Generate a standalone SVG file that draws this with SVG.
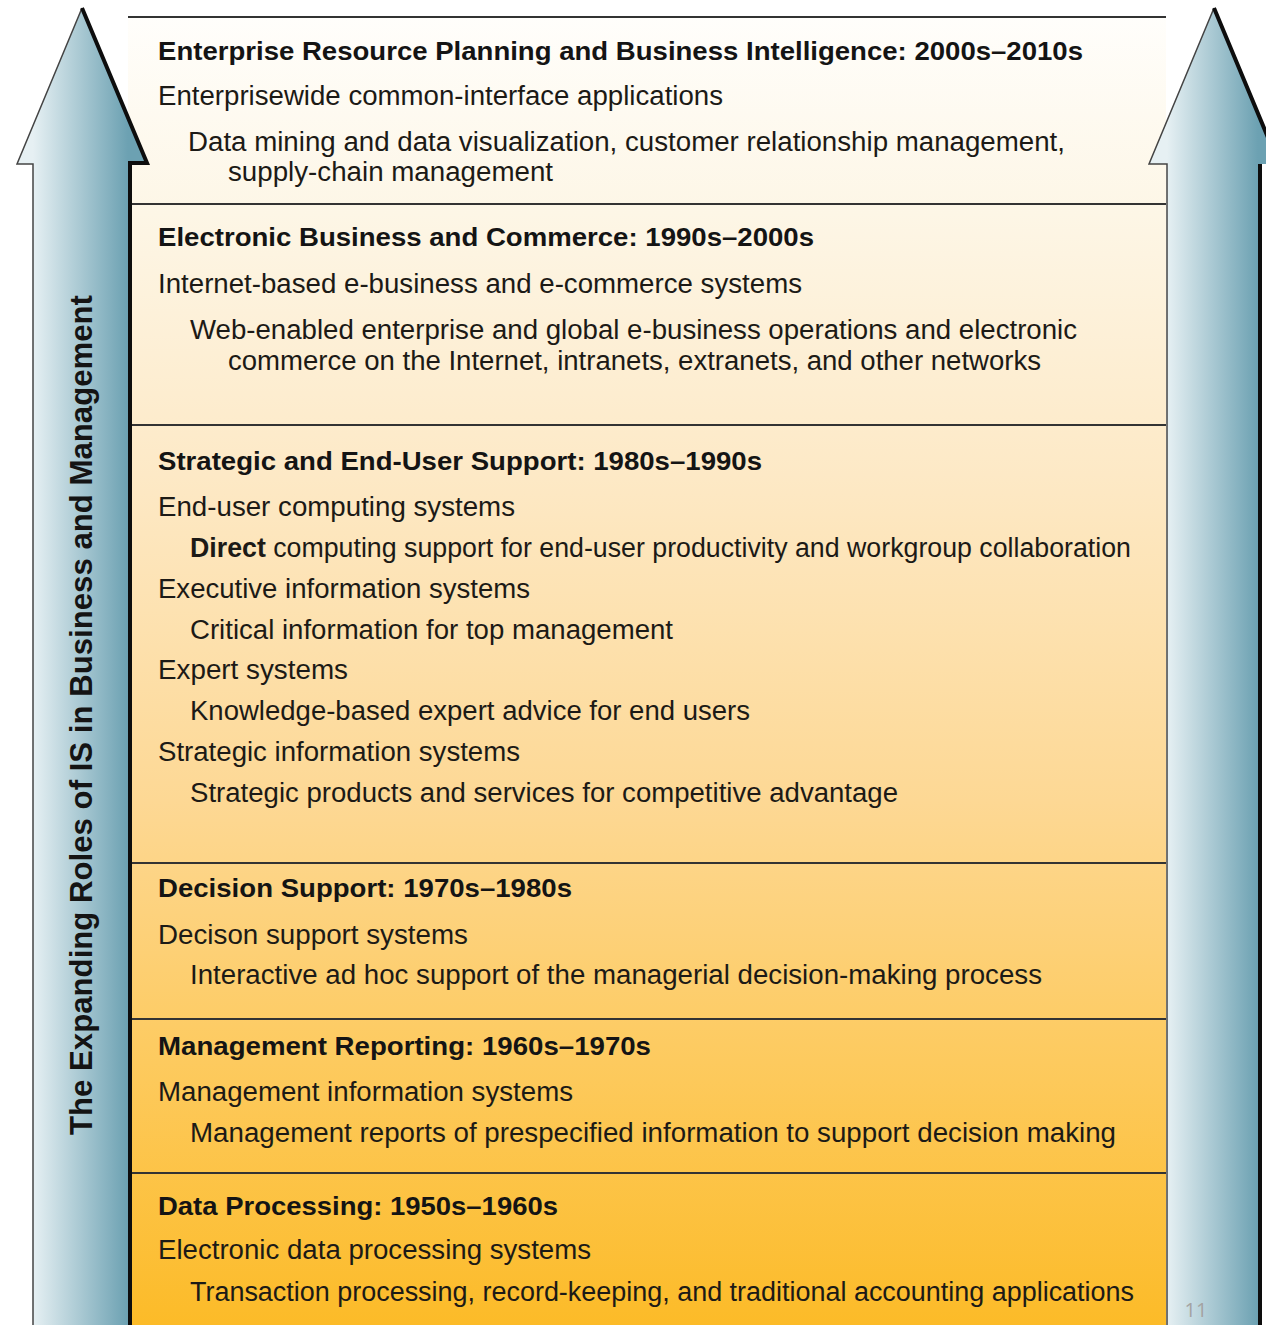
<svg xmlns="http://www.w3.org/2000/svg" width="1266" height="1325" viewBox="0 0 1266 1325">
  <defs>
    <linearGradient id="panelFill" x1="0" y1="17" x2="0" y2="1325" gradientUnits="userSpaceOnUse">
      <stop offset="0" stop-color="#fffefb"/>
      <stop offset="0.15" stop-color="#fdf6e6"/>
      <stop offset="0.35" stop-color="#fde9c6"/>
      <stop offset="0.6" stop-color="#fdd894"/>
      <stop offset="0.8" stop-color="#fdca5e"/>
      <stop offset="1" stop-color="#fcbb28"/>
    </linearGradient>
    <linearGradient id="arrowLeftFill" x1="33" y1="0" x2="128" y2="0" gradientUnits="userSpaceOnUse">
      <stop offset="0" stop-color="#e6f0f3"/>
      <stop offset="1" stop-color="#6ca1b2"/>
    </linearGradient>
    <linearGradient id="arrowRightFill" x1="1167" y1="0" x2="1258" y2="0" gradientUnits="userSpaceOnUse">
      <stop offset="0" stop-color="#e6f0f3"/>
      <stop offset="1" stop-color="#6ca1b2"/>
    </linearGradient>
  </defs>
  <style>
    .h { font-family: "Liberation Sans", Arial, sans-serif; font-weight: bold; font-size: 26px; fill: #141414; }
    .t { font-family: "Liberation Sans", Arial, sans-serif; font-size: 27px; fill: #1c1a16; }
    .b { font-weight: bold; }
    .sep { stroke: #333; stroke-width: 2; fill: none; }
    .edge { stroke: #444; stroke-width: 1.5; fill: none; }
    .shadow { stroke: #0d0d0d; stroke-width: 4; fill: none; stroke-linejoin: miter; }
    .side { font-family: "Liberation Sans", Arial, sans-serif; font-weight: bold; font-size: 31px; fill: #141414; }
    .pg { font-family: "Open Sans", "Liberation Sans", sans-serif; font-size: 20px; fill: #a3a3a3; }
  </style>

  <rect x="0" y="0" width="1266" height="1325" fill="#ffffff"/>

  <!-- era panel background -->
  <rect x="128" y="17" width="1038" height="1308" fill="url(#panelFill)"/>

  <!-- panel rules -->
  <g id="rules">
    <line class="sep" x1="128" y1="17" x2="1166" y2="17"/>
    <line class="sep" x1="128" y1="204" x2="1166" y2="204"/>
    <line class="sep" x1="128" y1="425" x2="1166" y2="425"/>
    <line class="sep" x1="128" y1="863" x2="1166" y2="863"/>
    <line class="sep" x1="128" y1="1019" x2="1166" y2="1019"/>
    <line class="sep" x1="128" y1="1173" x2="1166" y2="1173"/>
  </g>

  <!-- left upward arrow -->
  <g id="arrow-left">
    <path d="M82 8 L147 163 L128 163 L128 1325 L33 1325 L33 164 L17 164 Z" fill="url(#arrowLeftFill)"/>
    <path class="edge" d="M33 1325 L33 164 L17 164 L82 8"/>
    <path class="shadow" d="M82 8 L147 163 L130 163 L130 1325"/>
    <text class="side" transform="translate(92,715) rotate(-90)" text-anchor="middle" textLength="840" lengthAdjust="spacingAndGlyphs">The Expanding Roles of IS in Business and Management</text>
  </g>

  <!-- right upward arrow -->
  <g id="arrow-right">
    <path d="M1214 8 L1279 164 L1258 164 L1258 1325 L1167 1325 L1167 164 L1149 164 Z" fill="url(#arrowRightFill)"/>
    <path class="edge" d="M1167 1325 L1167 164 L1149 164 L1214 8"/>
    <path class="shadow" d="M1214 8 L1279 164 M1260 164 L1260 1325"/>
  </g>

  <!-- 2000s-2010s -->
  <g id="era-erp">
    <text class="h" x="158" y="60" textLength="925" lengthAdjust="spacingAndGlyphs">Enterprise Resource Planning and Business Intelligence: 2000s–2010s</text>
    <text class="t" x="158" y="105" textLength="565" lengthAdjust="spacingAndGlyphs">Enterprisewide common-interface applications</text>
    <text class="t" x="188" y="151" textLength="877" lengthAdjust="spacingAndGlyphs">Data mining and data visualization, customer relationship management,</text>
    <text class="t" x="228" y="181" textLength="325" lengthAdjust="spacingAndGlyphs">supply-chain management</text>
  </g>

  <!-- 1990s-2000s -->
  <g id="era-ebusiness">
    <text class="h" x="158" y="246" textLength="656" lengthAdjust="spacingAndGlyphs">Electronic Business and Commerce: 1990s–2000s</text>
    <text class="t" x="158" y="293" textLength="644" lengthAdjust="spacingAndGlyphs">Internet-based e-business and e-commerce systems</text>
    <text class="t" x="190" y="339" textLength="887" lengthAdjust="spacingAndGlyphs">Web-enabled enterprise and global e-business operations and electronic</text>
    <text class="t" x="228" y="370" textLength="813" lengthAdjust="spacingAndGlyphs">commerce on the Internet, intranets, extranets, and other networks</text>
  </g>

  <!-- 1980s-1990s -->
  <g id="era-strategic">
    <text class="h" x="158" y="470" textLength="604" lengthAdjust="spacingAndGlyphs">Strategic and End-User Support: 1980s–1990s</text>
    <text class="t" x="158" y="516" textLength="357" lengthAdjust="spacingAndGlyphs">End-user computing systems</text>
    <text class="t" x="190" y="557" textLength="941" lengthAdjust="spacingAndGlyphs"><tspan class="b">Direct</tspan> computing support for end-user productivity and workgroup collaboration</text>
    <text class="t" x="158" y="598" textLength="372" lengthAdjust="spacingAndGlyphs">Executive information systems</text>
    <text class="t" x="190" y="639" textLength="483" lengthAdjust="spacingAndGlyphs">Critical information for top management</text>
    <text class="t" x="158" y="679" textLength="190" lengthAdjust="spacingAndGlyphs">Expert systems</text>
    <text class="t" x="190" y="720" textLength="560" lengthAdjust="spacingAndGlyphs">Knowledge-based expert advice for end users</text>
    <text class="t" x="158" y="761" textLength="362" lengthAdjust="spacingAndGlyphs">Strategic information systems</text>
    <text class="t" x="190" y="802" textLength="708" lengthAdjust="spacingAndGlyphs">Strategic products and services for competitive advantage</text>
  </g>

  <!-- 1970s-1980s -->
  <g id="era-decision">
    <text class="h" x="158" y="897" textLength="414" lengthAdjust="spacingAndGlyphs">Decision Support: 1970s–1980s</text>
    <text class="t" x="158" y="944" textLength="310" lengthAdjust="spacingAndGlyphs">Decison support systems</text>
    <text class="t" x="190" y="984" textLength="852" lengthAdjust="spacingAndGlyphs">Interactive ad hoc support of the managerial decision-making process</text>
  </g>

  <!-- 1960s-1970s -->
  <g id="era-reporting">
    <text class="h" x="158" y="1055" textLength="493" lengthAdjust="spacingAndGlyphs">Management Reporting: 1960s–1970s</text>
    <text class="t" x="158" y="1101" textLength="415" lengthAdjust="spacingAndGlyphs">Management information systems</text>
    <text class="t" x="190" y="1142" textLength="926" lengthAdjust="spacingAndGlyphs">Management reports of prespecified information to support decision making</text>
  </g>

  <!-- 1950s-1960s -->
  <g id="era-processing">
    <text class="h" x="158" y="1215" textLength="400" lengthAdjust="spacingAndGlyphs">Data Processing: 1950s–1960s</text>
    <text class="t" x="158" y="1259" textLength="433" lengthAdjust="spacingAndGlyphs">Electronic data processing systems</text>
    <text class="t" x="190" y="1301" textLength="944" lengthAdjust="spacingAndGlyphs">Transaction processing, record-keeping, and traditional accounting applications</text>
  </g>

  <!-- page number -->
  <text class="pg" x="1196" y="1317" text-anchor="middle">11</text>
</svg>
